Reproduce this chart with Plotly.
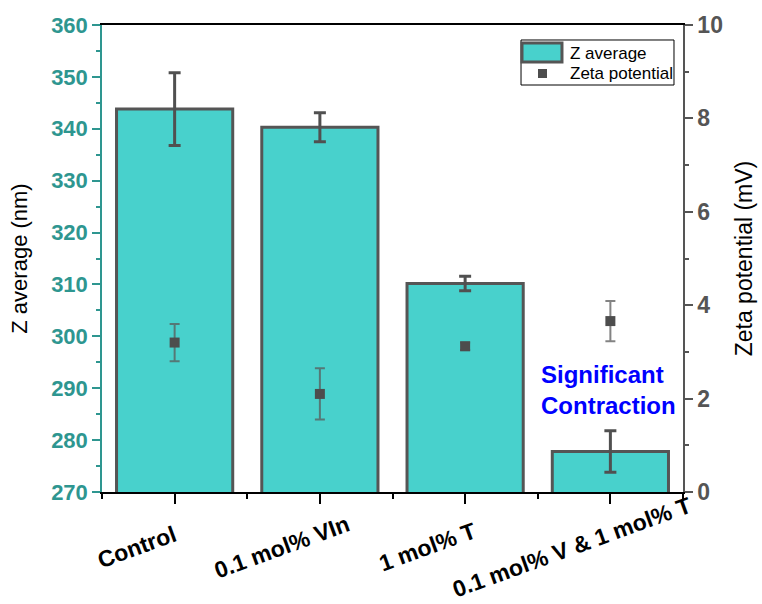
import plotly.graph_objects as go

# Sample groups
categories = ["Control", "0.1 mol% VIn", "1 mol% T", "0.1 mol% V & 1 mol% T"]

# Hydrodynamic size (nm) with standard deviation
z_average = [343.8, 340.3, 310.2, 277.8]
z_err = [7.0, 2.8, 1.4, 4.0]

# Zeta potential (mV) with standard deviation
zeta = [3.2, 2.1, 3.12, 3.66]
zeta_err = [0.4, 0.55, 0.08, 0.43]

x_pos = list(range(len(categories)))

teal = "#2E9690"
bar_fill = "#48D1CC"
dark = "#555555"
font_family = "Arial, Liberation Sans"

fig = go.Figure()

fig.add_trace(go.Bar(
    x=x_pos, y=z_average, name="Z average", width=0.8,
    marker=dict(color=bar_fill, line=dict(color=dark, width=3)),
    error_y=dict(type="data", array=z_err, color="#505050", thickness=3, width=6),
    yaxis="y", showlegend=False,
))

fig.add_trace(go.Scatter(
    x=x_pos, y=zeta, name="Zeta potential", mode="markers",
    marker=dict(symbol="square", size=10, color="#4d4d4d"),
    error_y=dict(type="data", array=zeta_err, color="rgba(90,90,90,0.75)", thickness=2, width=5),
    yaxis="y2", showlegend=False,
))

# Category labels, rotated about their centres
for i, label in zip(x_pos, categories):
    fig.add_annotation(
        text=label, xref="x", yref="paper", x=i, y=-0.118, xshift=-38,
        xanchor="center", yanchor="middle", textangle=-20, showarrow=False,
        font=dict(family=font_family, size=23, color="black", weight="bold"),
    )

fig.add_annotation(
    text="Significant<br>Contraction", xref="paper", yref="paper",
    x=0.752, y=0.218, xanchor="left", yanchor="middle", align="left",
    showarrow=False,
    font=dict(family=font_family, size=24, color="#0000FF", weight="bold"),
)

# Legend box drawn in paper coordinates
legend_shapes = [
    dict(type="rect", xref="paper", yref="paper", x0=0.7212, x1=0.9845, y0=0.8715, y1=0.9679,
         line=dict(color="black", width=1), fillcolor="white", layer="above"),
    dict(type="rect", xref="paper", yref="paper", x0=0.7229, x1=0.7917, y0=0.9208, y1=0.9615,
         line=dict(color=dark, width=3), fillcolor=bar_fill, layer="above"),
    dict(type="rect", xref="paper", yref="paper", x0=0.7504, x1=0.7659, y0=0.8865, y1=0.9058,
         line=dict(width=0), fillcolor="#4d4d4d", layer="above"),
]
for s in legend_shapes:
    fig.add_shape(**s)

for text, ypos in [("Z average", 0.940), ("Zeta potential", 0.8972)]:
    fig.add_annotation(
        text=text, xref="paper", yref="paper", x=0.8021, y=ypos,
        xanchor="left", yanchor="middle", showarrow=False,
        font=dict(family=font_family, size=17, color="black"),
    )

fig.update_layout(
    width=762, height=604,
    margin=dict(l=102, r=79, t=25, b=112),
    paper_bgcolor="white", plot_bgcolor="white",
    font=dict(family=font_family, color="black"),
    showlegend=False,
    xaxis=dict(
        range=[-0.5, 3.5], tickmode="array", tickvals=x_pos, showticklabels=False,
        showgrid=False, zeroline=False, automargin=False,
        showline=True, linecolor="black", linewidth=1.5, mirror=True,
        ticks="outside", ticklen=10, tickwidth=1.5, tickcolor="black",
        minor=dict(tickmode="linear", tick0=0.5, dtick=1, ticks="outside",
                   ticklen=5, tickwidth=1.5, tickcolor="black"),
    ),
    yaxis=dict(
        title=dict(text="Z average (nm)", font=dict(size=22, color="black"), standoff=17),
        range=[270, 360], dtick=10, showgrid=False, zeroline=False, automargin=False,
        showline=True, linecolor=teal, linewidth=1.5,
        ticks="outside", ticklen=8, tickwidth=1.5, tickcolor=teal,
        tickfont=dict(size=22, color=teal, weight="bold"),
        minor=dict(dtick=5, ticks="outside", ticklen=4, tickwidth=1.5, tickcolor=teal),
    ),
    yaxis2=dict(
        title=dict(text="Zeta potential (mV)", font=dict(size=23, color="black"), standoff=14),
        range=[0, 10], dtick=2, overlaying="y", side="right", anchor="x",
        showgrid=False, zeroline=False, automargin=False,
        showline=True, linecolor=dark, linewidth=1.5,
        ticks="outside", ticklen=8, tickwidth=1.5, tickcolor=dark,
        tickfont=dict(size=23, color=dark, weight="bold"),
        minor=dict(dtick=1, ticks="outside", ticklen=4, tickwidth=1.5, tickcolor=dark),
    ),
)

fig.write_html("out.html")
